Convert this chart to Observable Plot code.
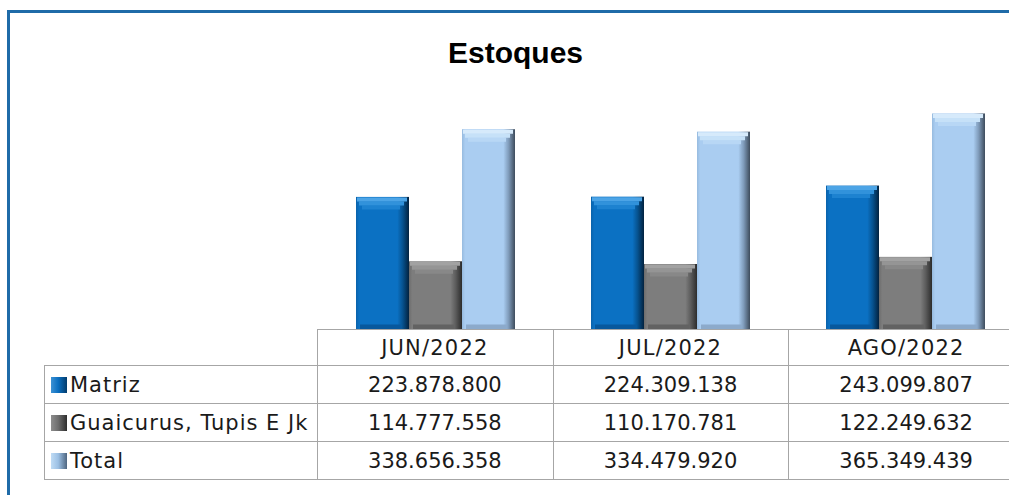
<!DOCTYPE html>
<html><head><meta charset="utf-8">
<script src="https://cdn.jsdelivr.net/npm/d3@7"></script>
<script src="https://cdn.jsdelivr.net/npm/@observablehq/plot@0.6"></script>
<style>
html,body{margin:0;padding:0;background:#fff;overflow:hidden;}
#wrap{position:relative;width:1009px;height:495px;overflow:hidden;background:#fff;font-family:"DejaVu Sans",sans-serif;}
#frame{position:absolute;left:7px;top:10px;width:1100px;height:600px;border-left:3px solid #1F6BA8;border-top:3px solid #1F6BA8;box-sizing:border-box;}
#title{position:absolute;left:0;width:1031px;top:36px;text-align:center;font:bold 30px "Liberation Sans",Arial,sans-serif;color:#000;line-height:34px;}
#chart{position:absolute;left:0;top:0;}
.cell{position:absolute;box-sizing:border-box;display:flex;align-items:center;font-size:21px;color:#1a1a1a;white-space:nowrap;}
.line{position:absolute;background:#A6A6A6;}
.icon{display:inline-block;width:16px;height:16px;margin-right:3px;flex:none;}
</style></head><body>
<div id="wrap"><div id="frame"></div><div id="title">Estoques</div><div id="chart"></div><div id="table"></div></div>
<script>
// ---- data ----
const months = ["JUN/2022", "JUL/2022", "AGO/2022"];
const series = ["Matriz", "Guaicurus, Tupis E Jk", "Total"];
const matriz = [223878800, 224309138, 243099807];
const guaicurus = [114777558, 110170781, 122249632];
const total = [338656358, 334479920, 365349439];
const seriesValues = [matriz, guaicurus, total];

// ---- styles ----
const gradIds = ["gMatriz", "gGuaicurus", "gTotal"];
const gradStops = [
  [["0%", "#0A62AA"], ["6%", "#0B71C3"], ["78%", "#0B71C3"], ["88%", "#06528F"], ["100%", "#02223F"]],
  [["0%", "#6C6C6C"], ["6%", "#7D7D7D"], ["78%", "#7D7D7D"], ["88%", "#5C5C5C"], ["100%", "#2C2C2C"]],
  [["0%", "#97BBDF"], ["6%", "#AACDF1"], ["78%", "#AACDF1"], ["88%", "#7F9BBA"], ["100%", "#3E4C5C"]]
];
const topColors = [["#4CA4E6", "#3192DB", "#1D82D0"], ["#A2A2A2", "#959595", "#888888"], ["#D6EAFB", "#C6E1F8", "#B8D7F5"]];
const bottomColors = ["#07589D", "#626262", "#8CAACB"];
const iconBg = [
  "linear-gradient(to right,#3D92D4 0%,#0B6FC0 45%,#023B6C 100%)",
  "linear-gradient(to right,#8E8E8E 0%,#6E6E6E 45%,#2E2E2E 100%)",
  "linear-gradient(to right,#C0DCF5 0%,#9CC0E4 45%,#4F6680 100%)"
];

const rows = [];
months.forEach((m, i) => series.forEach((s, j) => rows.push({month: m, series: s, value: seriesValues[j][i]})));

const marks = [
  Plot.barY(rows, {fx: "month", x: "series", y: "value", fill: "series"})
];
series.forEach((s, j) => {
  const sub = rows.filter(d => d.series === s);
  marks.push(Plot.tickY(sub, {fx: "month", x: "series", y: 0, stroke: bottomColors[j], strokeWidth: 5, dy: -2.5, insetLeft: 4, insetRight: 8}));
  marks.push(Plot.tickY(sub, {fx: "month", x: "series", y: "value", stroke: topColors[j][2], strokeWidth: 4, dy: 10, insetLeft: 6, insetRight: 9}));
  marks.push(Plot.tickY(sub, {fx: "month", x: "series", y: "value", stroke: topColors[j][1], strokeWidth: 4, dy: 6, insetLeft: 3, insetRight: 5}));
  marks.push(Plot.tickY(sub, {fx: "month", x: "series", y: "value", stroke: topColors[j][0], strokeWidth: 4, dy: 2, insetLeft: 1, insetRight: 2}));
});

const chart = Plot.plot({
  width: 1009, height: 495,
  marginLeft: 317, marginRight: -15, marginTop: 93, marginBottom: 166,
  fx: {domain: months, padding: 0, axis: null},
  x: {domain: series, paddingInner: 0, paddingOuter: 0.68, axis: null},
  y: {domain: [0, 400000000], axis: null},
  color: {domain: series, range: gradIds.map(id => `url(#${id})`)},
  style: {background: "transparent", overflow: "visible"},
  marks
});
const defs = d3.select(chart).insert("defs", ":first-child");
gradIds.forEach((id, j) => {
  const g = defs.append("linearGradient").attr("id", id).attr("x1", "0").attr("x2", "1").attr("y1", "0").attr("y2", "0");
  gradStops[j].forEach(([o, c]) => g.append("stop").attr("offset", o).attr("stop-color", c));
});
document.getElementById("chart").appendChild(chart);

// ---- data table (aligned with the band layout) ----
const fmt = d3.formatLocale({decimal: ",", thousands: ".", grouping: [3], currency: ["R$", ""]}).format(",d");
const tbl = document.getElementById("table");
const colX = [44, 317, 552.7, 788.3, 1024];
const rowY = [329, 365, 403, 441, 479];
function line(x, y, w, h) {
  const d = document.createElement("div"); d.className = "line";
  Object.assign(d.style, {left: x + "px", top: y + "px", width: w + "px", height: h + "px"});
  tbl.appendChild(d);
}
function cell(x, y, w, h, html, align, extra) {
  const d = document.createElement("div"); d.className = "cell";
  Object.assign(d.style, {left: x + "px", top: y + "px", width: w + "px", height: h + "px", justifyContent: align}, extra || {});
  d.innerHTML = html; tbl.appendChild(d);
}
line(colX[1], rowY[0], colX[4] - colX[1], 1);
for (let r = 1; r < rowY.length; r++) line(colX[0], rowY[r], colX[4] - colX[0], 1);
line(colX[0], rowY[1], 1, rowY[4] - rowY[1] + 1);
for (let c = 1; c < colX.length; c++) line(colX[c], rowY[0], 1, rowY[4] - rowY[0] + 1);
months.forEach((m, i) => cell(colX[i + 1], rowY[0] + 1, colX[i + 2] - colX[i + 1], rowY[1] - rowY[0], m, "center", {letterSpacing: "1.2px"}));
series.forEach((s, j) => {
  const y = rowY[j + 1] + 1, h = rowY[j + 2] - rowY[j + 1];
  cell(colX[0] + 7, y, colX[1] - colX[0] - 7, h, `<span class="icon" style="background:${iconBg[j]}"></span><span style="letter-spacing:1px">${s}</span>`, "flex-start");
  seriesValues[j].forEach((v, i) => cell(colX[i + 1], y, colX[i + 2] - colX[i + 1], h, fmt(v), "center"));
});
</script>
</body></html>
